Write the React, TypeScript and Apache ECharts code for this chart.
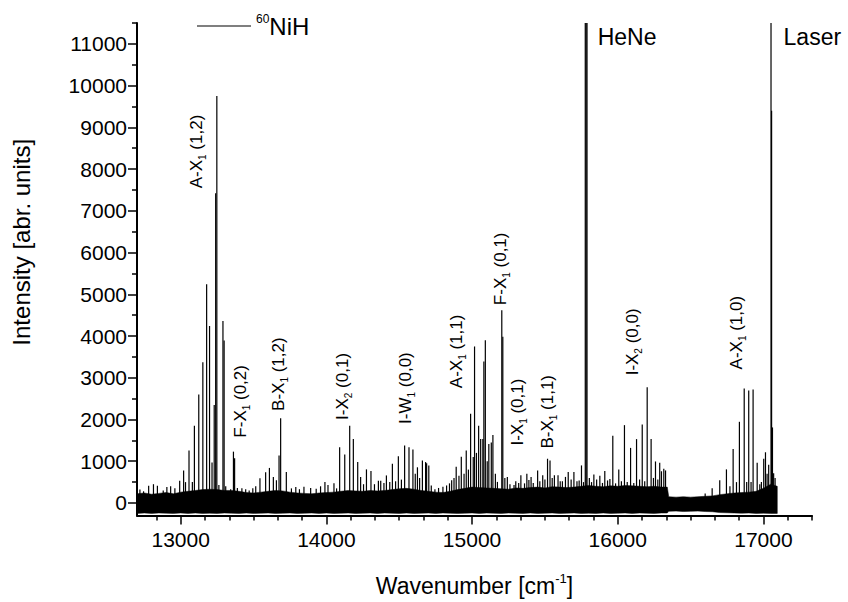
import React, { useEffect, useRef } from 'react';
import * as echarts from 'echarts';

const FONT = "'Liberation Sans', Arial, Helvetica, sans-serif";

const X_MIN = 12700;
const X_MAX = 17000 + 2000 / 6;
const Y_MIN = -300;
const Y_MAX = 11500;

const xTickValues = [13000, 14000, 15000, 16000, 17000];
const yTickValues = [0, 1000, 2000, 3000, 4000, 5000, 6000, 7000, 8000, 9000, 10000, 11000];
const yMinorTickValues = [500, 1500, 2500, 3500, 4500, 5500, 6500, 7500, 8500, 9500, 10500, 11500];

// spectral lines: wavenumber and peak intensity (lines reaching the top are clipped)
const peakX = [
  12720, 12745, 12780, 12813, 12840, 12880, 12905, 12931, 12960, 12993,
  13020, 13033, 13057, 13080, 13094, 13124, 13152, 13178, 13198, 13215,
  13230, 13240, 13248, 13262, 13290, 13298, 13309, 13343, 13362, 13370,
  13389, 13420, 13446, 13470, 13495, 13515, 13544, 13583, 13609, 13636,
  13657, 13675, 13686, 13725, 13760, 13790, 13815, 13846, 13892, 13930,
  13960, 13990, 14011, 14052, 14070, 14091, 14126, 14160, 14185, 14215,
  14235, 14255, 14275, 14306, 14330, 14357, 14373, 14395, 14412, 14435,
  14453, 14475, 14494, 14515, 14537, 14567, 14594, 14610, 14625, 14640,
  14659, 14681, 14688, 14703, 14720, 14745, 14770, 14800, 14825, 14845,
  14860, 14876, 14891, 14910, 14926, 14945, 14960, 14975, 14990, 15008,
  15017, 15030, 15045, 15059, 15074, 15081, 15091, 15104, 15115, 15132,
  15143, 15160, 15174, 15204, 15211, 15225, 15242, 15260, 15288, 15300,
  15320, 15335, 15360, 15376, 15390, 15405, 15420, 15450, 15465, 15485,
  15500, 15518, 15535, 15550, 15565, 15590, 15605, 15620, 15641, 15660,
  15680, 15699, 15720, 15735, 15751, 15765, 15777, 15783, 15789, 15805,
  15820, 15836, 15855, 15877, 15895, 15911, 15930, 15946, 15966, 15985,
  16007, 16025, 16046, 16065, 16088, 16110, 16129, 16150, 16168, 16185,
  16202, 16229, 16245, 16259, 16275, 16288, 16300, 16316, 16328, 16600,
  16648, 16700, 16746, 16770, 16792, 16815, 16835, 16868, 16885, 16899,
  16915, 16929, 16957, 16975, 16986, 17002, 17014, 17025, 17036, 17052,
  17056, 17062, 17070, 17080,
];
const peakY = [
  320, 280, 410, 450, 410, 300, 380, 400, 350, 530,
  780, 500, 1256, 505, 1850, 2600, 3370, 5240, 4240, 970,
  2350, 7420, 9750, 430, 4360, 3890, 400, 330, 1230, 1070,
  360, 350, 330, 300, 350, 400, 590, 735, 840, 625,
  545, 1140, 2030, 740, 350, 380, 330, 390, 360, 340,
  400, 505, 430, 470, 350, 1335, 1160, 1850, 1530, 980,
  625, 450, 805, 765, 450, 530, 530, 480, 660, 500,
  940, 520, 1120, 560, 1375, 1335, 1280, 700, 855, 600,
  1020, 980, 950, 900, 420, 330, 360, 390, 420, 470,
  545, 600, 870, 650, 1110, 700, 1260, 800, 2140, 1100,
  3750, 1200, 1850, 1530, 1530, 3390, 3900, 1000, 1415, 1450,
  1630, 700, 505, 4620, 3980, 600, 625, 450, 430, 520,
  480, 665, 470, 700, 550, 620, 480, 780, 520, 665,
  560, 1060, 1020, 600, 665, 665, 520, 520, 625, 740,
  560, 745, 520, 540, 900, 500, 11500, 11500, 11500, 600,
  500, 680, 560, 650, 480, 765, 540, 575, 1610, 470,
  800, 520, 1865, 500, 1320, 480, 1530, 560, 1880, 520,
  2775, 1530, 600, 995, 560, 965, 760, 820, 780, 230,
  350, 545, 805, 400, 1295, 500, 1945, 2745, 500, 2695,
  500, 2720, 965, 450, 505, 1060, 1215, 700, 915, 11500,
  9400, 1810, 710, 600,
];

// noise band envelope of the recorded spectrum
const noiseX = [
  12650, 12700, 12750, 12800, 12850, 12900, 12950, 13000,
  13050, 13100, 13150, 13200, 13250, 13300, 13350, 13400,
  13450, 13500, 13550, 13600, 13650, 13700, 13750, 13800,
  13850, 13900, 13950, 14000,
  14050, 14100, 14150, 14200, 14250, 14300,
  14350, 14400, 14450, 14500, 14550, 14600, 14650, 14700,
  14750, 14800, 14850,
  14900, 14950, 15000, 15050, 15100, 15150, 15200, 15250,
  15300, 15350, 15400, 15450, 15500, 15550, 15600, 15650, 15700, 15750,
  15800, 15850, 15900, 15950, 16000, 16050, 16100, 16150, 16200, 16250, 16300,
  16340, 16350, 16400, 16450, 16500, 16550, 16600, 16650,
  16700, 16750, 16800, 16850, 16900, 16950, 17000, 17050,
  17095,
];
const noiseTop = [
  220, 220, 240, 210, 230, 250, 220, 260,
  280, 300, 320, 330, 320, 300, 300, 280,
  250, 240, 260, 280, 300, 290, 260, 240,
  230, 220, 240, 250,
  260, 280, 300, 290, 280, 300,
  290, 300, 320, 340, 350, 330, 300, 280,
  260, 250, 280,
  320, 350, 380, 370, 360, 350, 340, 330,
  360, 350, 370, 380, 360, 390, 380, 370, 380, 400,
  420, 400, 390, 410, 400, 420, 410, 400, 390, 400, 380,
  380, 150, 140, 150, 140, 150, 160, 170,
  200, 220, 240, 250, 260, 280, 350, 450,
  400,
];
const noiseBottom = [
  -240, -250, -240, -250, -240, -245, -250, -240,
  -250, -240, -250, -245, -250, -240, -245, -250,
  -240, -250, -245, -240, -250, -245, -240, -250,
  -245, -240, -250, -240,
  -250, -245, -240, -250, -245, -240,
  -250, -240, -245, -250, -240, -250, -245, -240,
  -250, -240, -245,
  -250, -245, -240, -250, -240, -245, -250, -240,
  -245, -250, -240, -250, -245, -240, -250, -245, -240, -250,
  -245, -250, -240, -250, -245, -240, -250, -240, -245, -250, -240,
  -240, -200, -195, -205, -200, -195, -205, -210,
  -230, -235, -240, -245, -240, -250, -245, -250,
  -250,
];

// band assignments (rotated labels), anchored at the start of the text
const labelX = [13105, 13412, 13672, 14111, 14544, 14894, 15196, 15312, 15518, 16101, 16815];
const labelY = [7540, 1565, 2205, 1990, 1895, 2750, 4740, 1375, 1304, 3058, 3200];
const labelMain = ['A-X', 'F-X', 'B-X', 'I-X', 'I-W', 'A-X', 'F-X', 'I-X', 'B-X', 'I-X', 'A-X'];
const labelSub = ['1', '1', '1', '2', '1', '1', '1', '1', '1', '2', '1'];
const labelTail = [' (1,2)', ' (0,2)', ' (1,2)', ' (0,1)', ' (0,0)', ' (1,1)', ' (0,1)', ' (0,1)', ' (1,1)', ' (0,0)', ' (1,0)'];

const lineLabelX = [15862, 17138];
const lineLabelY = [11160, 11160];
const lineLabelText = ['HeNe', 'Laser'];

export default function App() {
  const ref = useRef<HTMLDivElement>(null);

  useEffect(() => {
    document.body.style.margin = '0';
    const chart = echarts.init(ref.current as HTMLDivElement, null, { renderer: 'svg' });

    const xMinor: number[] = [];
    for (let k = 12; k <= 17; k++) {
      for (let j = 1; j < 6; j++) {
        const v = k * 1000 + (j * 1000) / 6;
        if (v >= X_MIN && v <= X_MAX + 0.001) xMinor.push(v);
      }
    }

    const axisColor = '#000';

    const option: any = {
      animation: false,
      backgroundColor: '#ffffff',
      grid: { left: 137, top: 23, right: 36, bottom: 81, containLabel: false },
      legend: {
        show: true,
        left: 197,
        top: 13,
        padding: 0,
        data: ['60NiH'],
        icon: 'rect',
        itemWidth: 54,
        itemHeight: 1,
        selectedMode: false,
        formatter: () => '{s|60}{m|NiH}',
        textStyle: {
          color: '#000',
          fontFamily: FONT,
          rich: {
            s: { fontSize: 12, lineHeight: 12, verticalAlign: 'top', fontFamily: FONT, color: '#000' },
            m: { fontSize: 24, lineHeight: 26, fontFamily: FONT, color: '#000' },
          },
        },
      },
      xAxis: [
        {
          type: 'value',
          min: X_MIN,
          max: X_MAX,
          position: 'bottom',
          axisLine: { show: true, onZero: false, lineStyle: { color: axisColor, width: 2 } },
          axisTick: { show: true, length: 9, customValues: xTickValues, lineStyle: { color: axisColor, width: 1.5 } },
          axisLabel: {
            customValues: xTickValues,
            formatter: (v: number) => String(v),
            color: '#000',
            fontSize: 21,
            fontFamily: FONT,
            margin: 13,
          },
          splitLine: { show: false },
          name: '{m|Wavenumber [cm}{s|-1}{m|]}',
          nameLocation: 'middle',
          nameGap: 56,
          nameTextStyle: {
            color: '#000',
            fontFamily: FONT,
            fontSize: 23,
            rich: {
              m: { fontSize: 23, lineHeight: 28, fontFamily: FONT, color: '#000' },
              s: { fontSize: 13, lineHeight: 13, verticalAlign: 'top', fontFamily: FONT, color: '#000' },
            },
          },
        },
        {
          type: 'value',
          min: X_MIN,
          max: X_MAX,
          position: 'bottom',
          axisLine: { show: false, onZero: false },
          axisTick: { show: true, length: 5, customValues: xMinor, lineStyle: { color: axisColor, width: 1.5 } },
          axisLabel: { show: false },
          splitLine: { show: false },
        },
      ],
      yAxis: [
        {
          type: 'value',
          min: Y_MIN,
          max: Y_MAX,
          position: 'left',
          axisLine: { show: true, onZero: false, lineStyle: { color: axisColor, width: 2 } },
          axisTick: { show: true, length: 9, customValues: yTickValues, lineStyle: { color: axisColor, width: 1.5 } },
          axisLabel: {
            customValues: yTickValues,
            formatter: (v: number) => String(v),
            color: '#000',
            fontSize: 21,
            fontFamily: FONT,
            margin: 10,
          },
          splitLine: { show: false },
          name: 'Intensity [abr. units]',
          nameLocation: 'middle',
          nameGap: 104,
          nameTextStyle: {
            color: '#000',
            fontFamily: FONT,
            fontSize: 24,
            padding: [0, 0, 0, 54],
          },
        },
        {
          type: 'value',
          min: Y_MIN,
          max: Y_MAX,
          position: 'left',
          axisLine: { show: false, onZero: false },
          axisTick: { show: true, length: 5, customValues: yMinorTickValues, lineStyle: { color: axisColor, width: 1.5 } },
          axisLabel: { show: false },
          splitLine: { show: false },
        },
      ],
      series: [
        {
          type: 'custom',
          name: 'noise',
          silent: true,
          clip: true,
          xAxisIndex: 0,
          yAxisIndex: 0,
          data: [[noiseX[0], 0]],
          encode: { x: 0, y: 1 },
          renderItem: (_params: any, api: any) => {
            const pts: number[][] = [];
            for (let i = 0; i < noiseX.length; i++) pts.push(api.coord([noiseX[i], noiseTop[i]]));
            for (let i = noiseX.length - 1; i >= 0; i--) pts.push(api.coord([noiseX[i], noiseBottom[i]]));
            return {
              type: 'polygon',
              shape: { points: pts },
              style: { fill: '#000', stroke: '#000', lineWidth: 0.5 },
            };
          },
          z: 2,
        },
        {
          type: 'custom',
          name: '60NiH',
          silent: true,
          clip: true,
          xAxisIndex: 0,
          yAxisIndex: 0,
          itemStyle: { color: '#000' },
          data: peakX.map((x, i) => [x, peakY[i]]),
          encode: { x: 0, y: 1 },
          renderItem: (_params: any, api: any) => {
            const x = api.value(0);
            const h = api.value(1);
            const a = api.coord([x, 0]);
            const b = api.coord([x, h]);
            return {
              type: 'line',
              shape: { x1: a[0], y1: a[1], x2: b[0], y2: b[1] },
              style: { stroke: '#000', lineWidth: 1.2 },
            };
          },
          z: 3,
        },
        {
          type: 'scatter',
          name: 'assignments',
          silent: true,
          symbolSize: 0,
          itemStyle: { color: '#000', opacity: 1 },
          data: labelX.map((x, i) => [x, labelY[i]]),
          label: {
            show: true,
            position: [0, 0],
            align: 'left',
            verticalAlign: 'middle',
            rotate: 90,
            color: '#000',
            opacity: 1,
            formatter: (p: any) =>
              `{m|${labelMain[p.dataIndex]}}{s|${labelSub[p.dataIndex]}}{m|${labelTail[p.dataIndex]}}`,
            rich: {
              m: { fontSize: 17, lineHeight: 22, fontFamily: FONT, color: '#000' },
              s: { fontSize: 10, lineHeight: 10, verticalAlign: 'bottom', fontFamily: FONT, color: '#000' },
            },
          },
          z: 5,
        },
        {
          type: 'scatter',
          name: 'lines',
          silent: true,
          symbolSize: 0,
          itemStyle: { color: '#000', opacity: 1 },
          data: lineLabelX.map((x, i) => [x, lineLabelY[i]]),
          label: {
            show: true,
            position: [0, 0],
            align: 'left',
            verticalAlign: 'middle',
            color: '#000',
            opacity: 1,
            fontFamily: FONT,
            fontSize: 23,
            formatter: (p: any) => lineLabelText[p.dataIndex],
          },
          z: 5,
        },
      ],
    };

    chart.setOption(option);
    return () => {
      chart.dispose();
    };
  }, []);

  return <div ref={ref} style={{ width: 848, height: 602 }} />;
}
